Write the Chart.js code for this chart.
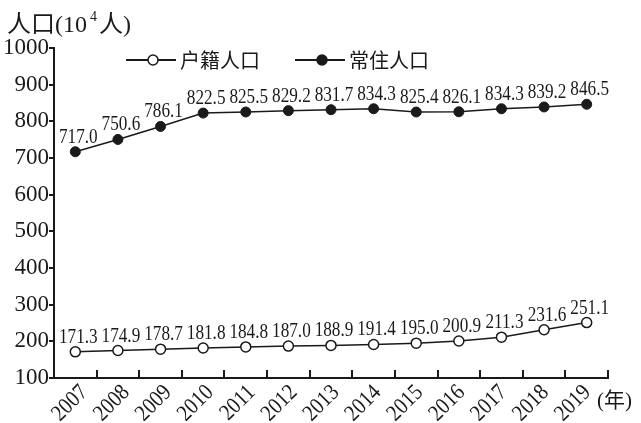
<!DOCTYPE html>
<html>
<head>
<meta charset="utf-8">
<script src="https://cdn.jsdelivr.net/npm/chart.js@4/dist/chart.umd.min.js"></script>
<style>
  body { margin: 0; background: #fff; }
  #wrap { width: 641px; height: 423px; }
</style>
</head>
<body>
<div id="wrap"><canvas id="chart" width="641" height="423"></canvas></div>
<script>
const years = ['2007', '2008', '2009', '2010', '2011', '2012', '2013', '2014', '2015', '2016', '2017', '2018', '2019']
const huji = [171.3, 174.9, 178.7, 181.8, 184.8, 187.0, 188.9, 191.4, 195.0, 200.9, 211.3, 231.6, 251.1]
const changzhu = [717.0, 750.6, 786.1, 822.5, 825.5, 829.2, 831.7, 834.3, 825.4, 826.1, 834.3, 839.2, 846.5]
const seriesNames = ['户籍人口', '常住人口']
const yTicks = [100, 200, 300, 400, 500, 600, 700, 800, 900, 1000]

const INK = '#1a1a1a'
const SERIF = '"Liberation Serif", "Noto Sans CJK SC", serif'
const CJK = '"Liberation Serif", "Noto Sans CJK SC", sans-serif'

// labels above each point, drawn a bit condensed like the print
const valueLabels = {
  id: 'valueLabels',
  afterDatasetsDraw(chart) {
    const ctx = chart.ctx
    ctx.save()
    ctx.fillStyle = INK
    ctx.font = '20px ' + SERIF
    ctx.textAlign = 'center'
    ctx.textBaseline = 'alphabetic'
    chart.data.datasets.forEach((ds, di) => {
      const meta = chart.getDatasetMeta(di)
      meta.data.forEach((pt, i) => {
        const txt = ds.data[i].toFixed(1)
        ctx.save()
        ctx.translate(pt.x + 3, pt.y - 9)
        ctx.scale(0.86, 1)
        ctx.fillText(txt, 0, 0)
        ctx.restore()
      })
    })
    ctx.restore()
  },
}

// titles, legend, year labels and inward x tick marks
const extras = {
  id: 'extras',
  afterDraw(chart) {
    const ctx = chart.ctx
    const x = chart.scales.x
    ctx.save()
    ctx.strokeStyle = INK
    ctx.fillStyle = INK
    ctx.lineWidth = 2
    // x tick marks between categories, pointing up
    const n = years.length
    for (let i = 1; i <= n; i++) {
      const px = Math.round(x.left + (i * (x.right - x.left)) / n)
      ctx.beginPath()
      ctx.moveTo(px, x.top)
      ctx.lineTo(px, x.top - 8)
      ctx.stroke()
    }

    // rotated year labels
    ctx.font = '23px ' + SERIF
    ctx.textAlign = 'right'
    ctx.textBaseline = 'middle'
    years.forEach((yr, i) => {
      const px = x.getPixelForValue(i)
      ctx.save()
      ctx.translate(px + 9 - i * 0.7, x.top + 11)
      ctx.rotate(-Math.PI / 4)
      ctx.scale(0.88, 1)
      ctx.fillText(yr, 0, 0)
      ctx.restore()
    })

    // y axis title
    ctx.textBaseline = 'alphabetic'
    ctx.textAlign = 'left'
    ctx.font = '24px ' + CJK
    let tx = 7
    ctx.fillText('人口(10', tx, 32)
    tx += ctx.measureText('人口(10').width
    ctx.font = '14px ' + SERIF
    ctx.fillText('4', tx + 3, 21)
    tx += ctx.measureText('4').width + 5
    ctx.font = '24px ' + CJK
    ctx.fillText('人)', tx, 32)

    // x axis unit
    ctx.font = '21px ' + CJK
    ctx.fillText('(年)', 597, 407)

    // legend
    const ly = 60
    const items = [
      { x0: 126, fill: '#fff', text: seriesNames[0] },
      { x0: 295, fill: INK, text: seriesNames[1] },
    ]
    ctx.font = '20px ' + CJK
    items.forEach((it) => {
      ctx.lineWidth = 2
      ctx.beginPath()
      ctx.moveTo(it.x0, ly)
      ctx.lineTo(it.x0 + 50, ly)
      ctx.stroke()
      ctx.beginPath()
      ctx.arc(it.x0 + 27, ly, 5, 0, Math.PI * 2)
      ctx.fillStyle = it.fill
      ctx.fill()
      ctx.lineWidth = 1.5
      ctx.stroke()
      ctx.fillStyle = INK
      ctx.fillText(it.text, it.x0 + 54, ly + 8)
    })
    ctx.restore()
  },
}

const ctx = document.getElementById('chart').getContext('2d')
const chart = new Chart(ctx, {
  type: 'line',
  data: {
    labels: years,
    datasets: [
      {
        label: seriesNames[0],
        data: huji,
        borderColor: INK,
        borderWidth: 1.5,
        pointRadius: 5,
        pointBorderWidth: 1.5,
        pointBackgroundColor: '#fff',
        pointBorderColor: INK,
        tension: 0,
      },
      {
        label: seriesNames[1],
        data: changzhu,
        borderColor: INK,
        borderWidth: 1.5,
        pointRadius: 5,
        pointBorderWidth: 1,
        pointBackgroundColor: INK,
        pointBorderColor: INK,
        tension: 0,
      },
    ],
  },
  options: {
    responsive: false,
    devicePixelRatio: 1,
    animation: false,
    layout: { padding: { top: 48, right: 33, left: 0, bottom: 0 } },
    plugins: {
      legend: { display: false },
      tooltip: { enabled: false },
    },
    scales: {
      x: {
        offset: true,
        grid: { display: false, drawTicks: false },
        border: { color: INK, width: 2 },
        ticks: { display: false },
        afterFit(scale) {
          scale.height = 45
        },
      },
      y: {
        min: 100,
        max: 1000,
        afterBuildTicks(scale) {
          scale.ticks = yTicks.map((v) => ({ value: v }))
        },
        grid: {
          drawOnChartArea: false,
          drawTicks: true,
          tickLength: 5,
          color: INK,
          lineWidth: 2,
        },
        border: { color: INK, width: 2 },
        ticks: {
          color: INK,
          font: { family: SERIF, size: 23 },
          padding: 0,
          callback: (v) => String(v),
        },
        afterFit(scale) {
          scale.width = 54
        },
      },
    },
  },
  plugins: [valueLabels, extras],
})
</script>
</body>
</html>
